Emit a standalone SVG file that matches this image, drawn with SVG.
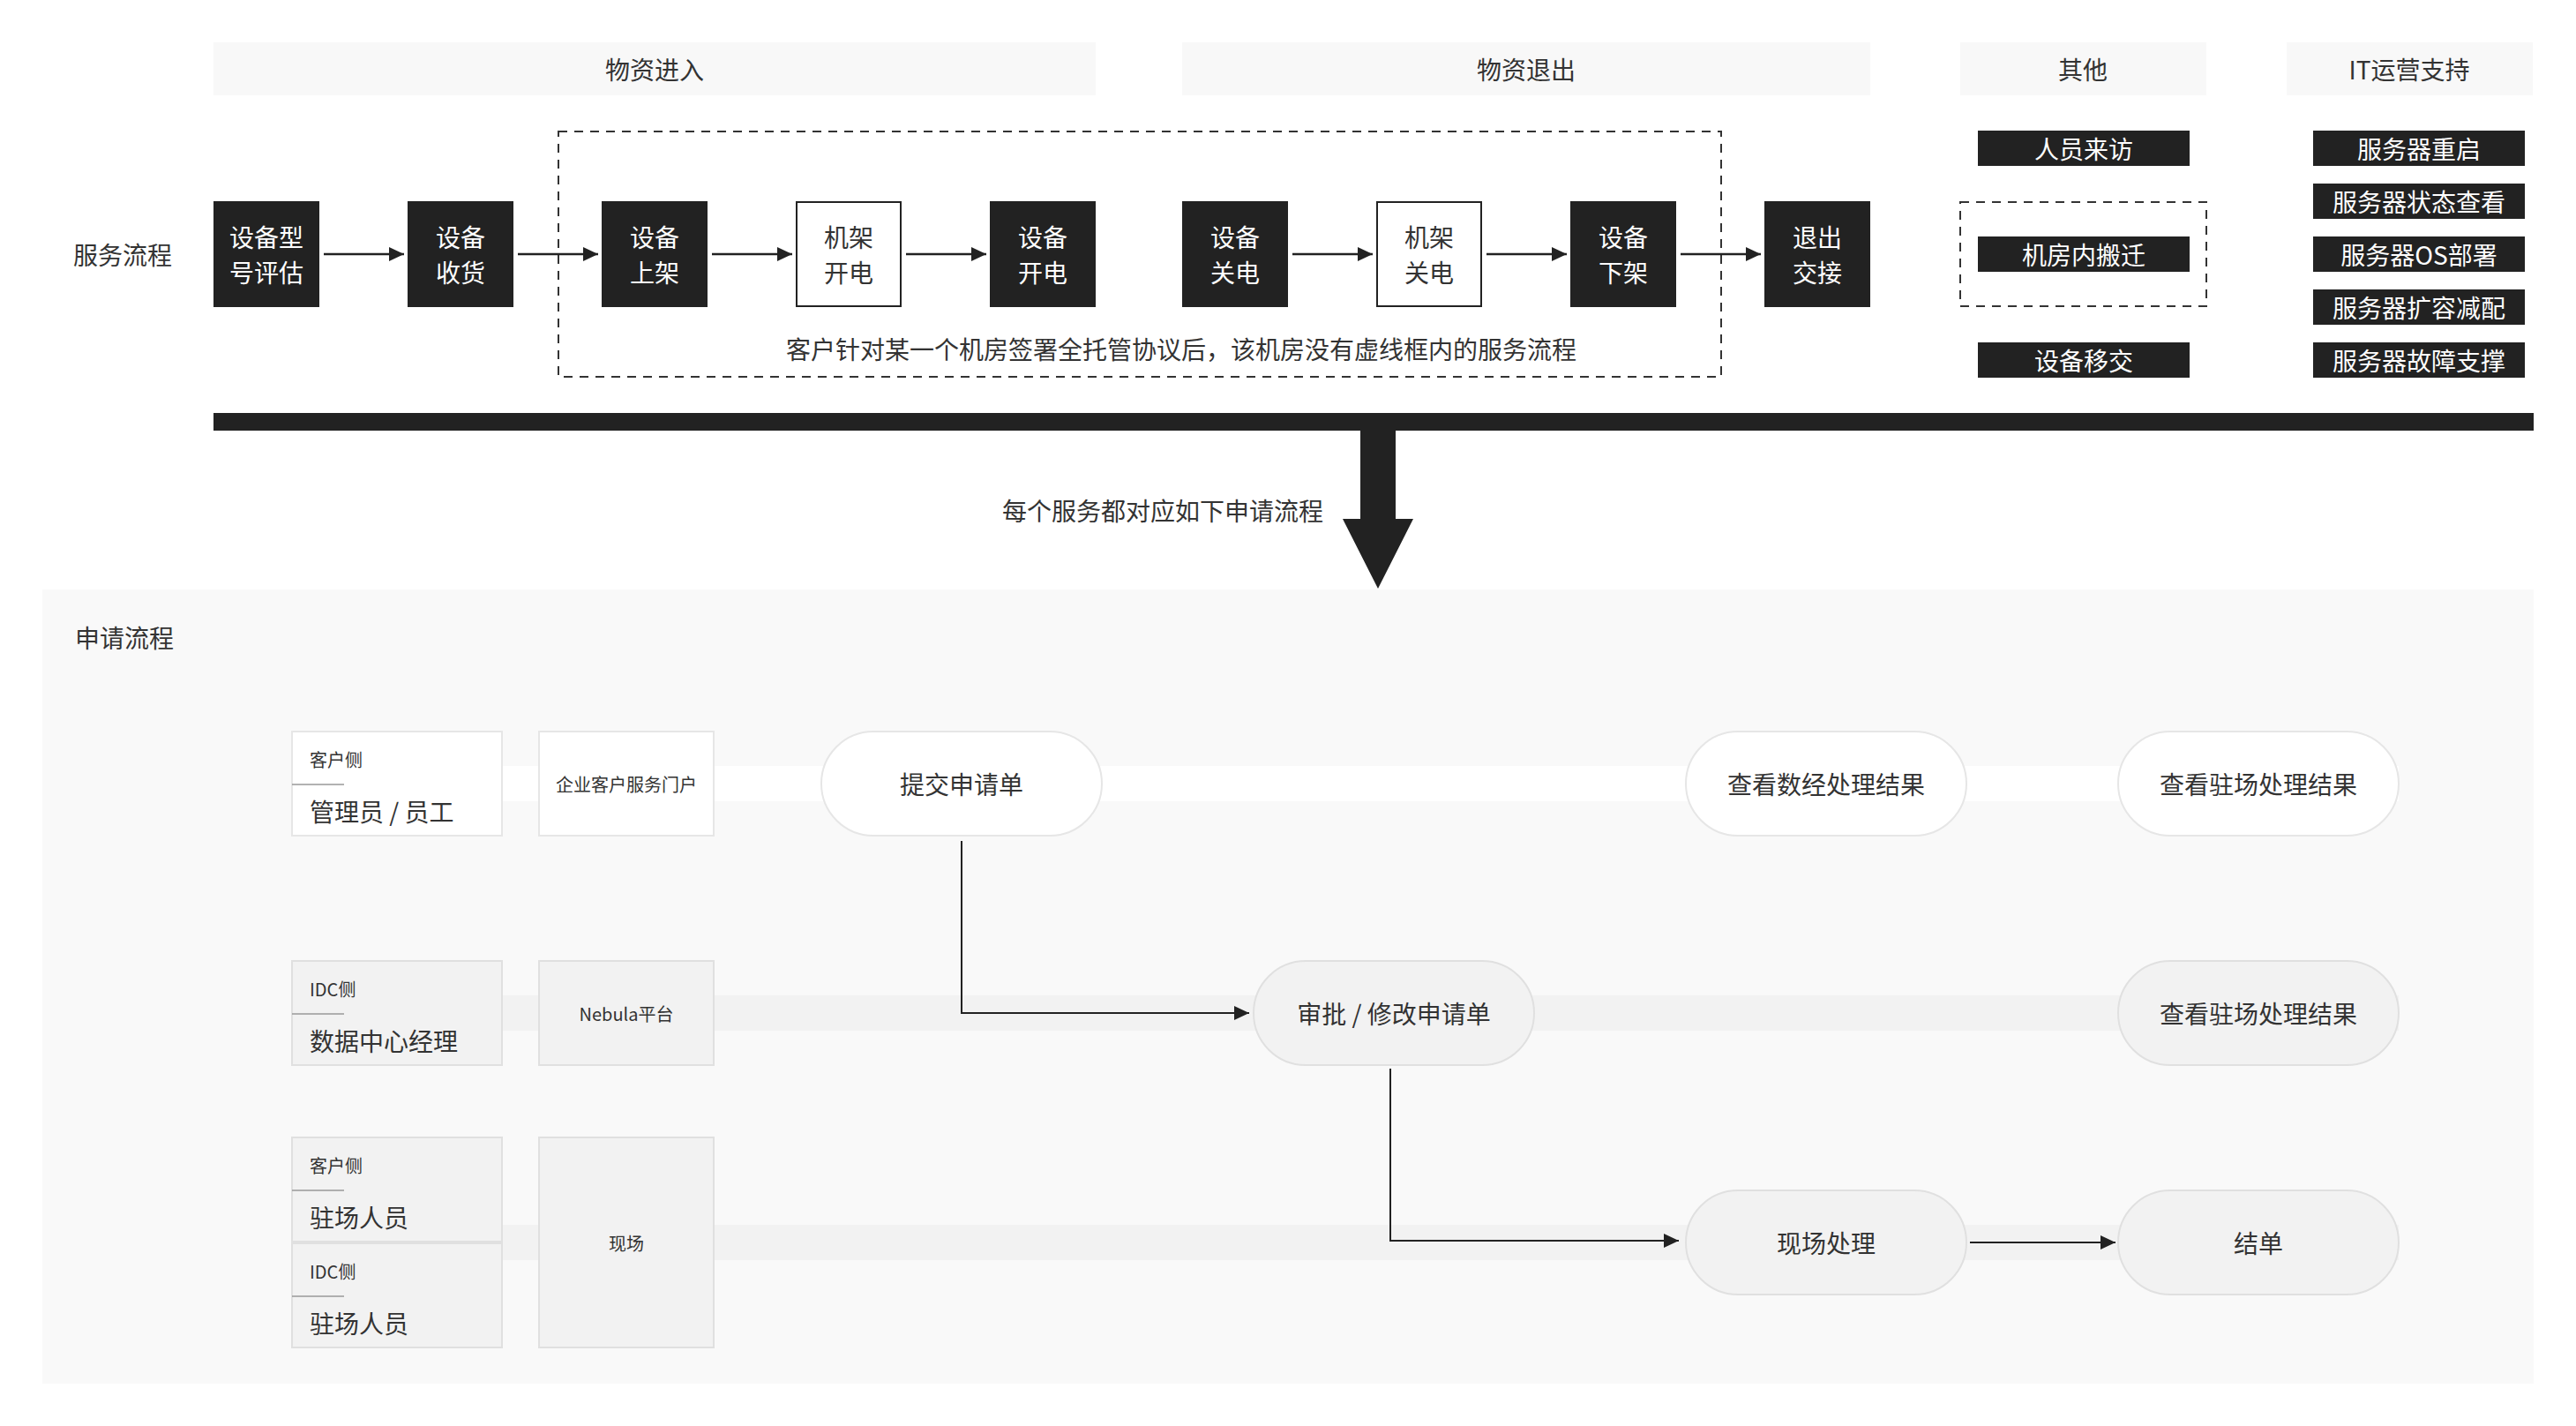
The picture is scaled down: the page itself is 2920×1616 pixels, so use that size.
<svg xmlns="http://www.w3.org/2000/svg" width="2920" height="1616" viewBox="0 0 2920 1616">
<defs>
<style>
text{font-family:"Noto Sans CJK SC","Noto Sans",sans-serif;fill:#333;dominant-baseline:central}
.t28{font-size:28px}
.t20{font-size:20px}
.c{text-anchor:middle}
.w{fill:#fff}
.hdr{fill:#f8f8f8}
.blk{fill:#222}
.wbox{fill:#fff;stroke:#222;stroke-width:2}
.dash{fill:none;stroke:#333;stroke-width:2;stroke-dasharray:10 8}
.arr{fill:none;stroke:#222;stroke-width:2.5}
.conn{fill:none;stroke:#222;stroke-width:2}
.rw{fill:#fff;stroke:#e6e6e6;stroke-width:2}
.rg{fill:#f2f2f2;stroke:#e0e0e0;stroke-width:2}
.sep{stroke:#999;stroke-width:1.5}
.base{dominant-baseline:alphabetic}
</style>
<marker id="ah" markerUnits="userSpaceOnUse" markerWidth="18" markerHeight="18" refX="17" refY="8" orient="auto">
<path d="M0,0 L17,8 L0,16 Z" fill="#222"/>
</marker>
</defs>
<rect width="2920" height="1616" fill="#fff"/>

<g id="headers">
<rect class="hdr" x="242" y="48" width="1000" height="60"/>
<text class="t28 c" x="742" y="78">物资进入</text>
<rect class="hdr" x="1340" y="48" width="780" height="60"/>
<text class="t28 c" x="1730" y="78">物资退出</text>
<rect class="hdr" x="2222" y="48" width="279" height="60"/>
<text class="t28 c" x="2361" y="78">其他</text>
<rect class="hdr" x="2592" y="48" width="279" height="60"/>
<text class="t28 c" x="2731" y="78">IT运营支持</text>
</g>

<text class="t28" x="83" y="288">服务流程</text>

<rect class="dash" x="633" y="149" width="1318" height="278"/>
<text class="t28 c" x="1339" y="395">客户针对某一个机房签署全托管协议后，该机房没有虚线框内的服务流程</text>

<g id="n1"><rect class="blk" x="242" y="228" width="120" height="120"/><text class="t28 c w" x="302" y="268">设备型</text><text class="t28 c w" x="302" y="308">号评估</text></g>
<g id="n2"><rect class="blk" x="462" y="228" width="120" height="120"/><text class="t28 c w" x="522" y="268">设备</text><text class="t28 c w" x="522" y="308">收货</text></g>
<g id="n3"><rect class="blk" x="682" y="228" width="120" height="120"/><text class="t28 c w" x="742" y="268">设备</text><text class="t28 c w" x="742" y="308">上架</text></g>
<g id="n4"><rect class="wbox" x="903" y="229" width="118" height="118"/><text class="t28 c" x="962" y="268">机架</text><text class="t28 c" x="962" y="308">开电</text></g>
<g id="n5"><rect class="blk" x="1122" y="228" width="120" height="120"/><text class="t28 c w" x="1182" y="268">设备</text><text class="t28 c w" x="1182" y="308">开电</text></g>
<g id="n6"><rect class="blk" x="1340" y="228" width="120" height="120"/><text class="t28 c w" x="1400" y="268">设备</text><text class="t28 c w" x="1400" y="308">关电</text></g>
<g id="n7"><rect class="wbox" x="1561" y="229" width="118" height="118"/><text class="t28 c" x="1620" y="268">机架</text><text class="t28 c" x="1620" y="308">关电</text></g>
<g id="n8"><rect class="blk" x="1780" y="228" width="120" height="120"/><text class="t28 c w" x="1840" y="268">设备</text><text class="t28 c w" x="1840" y="308">下架</text></g>
<g id="n9"><rect class="blk" x="2000" y="228" width="120" height="120"/><text class="t28 c w" x="2060" y="268">退出</text><text class="t28 c w" x="2060" y="308">交接</text></g>

<g id="other">
<rect class="blk" x="2242" y="148" width="240" height="40"/><text class="t28 c w" x="2362" y="168">人员来访</text>
<rect class="dash" x="2222" y="229" width="279" height="118"/>
<rect class="blk" x="2242" y="268" width="240" height="40"/><text class="t28 c w" x="2362" y="288">机房内搬迁</text>
<rect class="blk" x="2242" y="388" width="240" height="40"/><text class="t28 c w" x="2362" y="408">设备移交</text>
</g>
<g id="it">
<rect class="blk" x="2622" y="148" width="240" height="40"/><text class="t28 c w" x="2742" y="168">服务器重启</text>
<rect class="blk" x="2622" y="208" width="240" height="40"/><text class="t28 c w" x="2742" y="228">服务器状态查看</text>
<rect class="blk" x="2622" y="268" width="240" height="40"/><text class="t28 c w" x="2742" y="288">服务器OS部署</text>
<rect class="blk" x="2622" y="328" width="240" height="40"/><text class="t28 c w" x="2742" y="348">服务器扩容减配</text>
<rect class="blk" x="2622" y="388" width="240" height="40"/><text class="t28 c w" x="2742" y="408">服务器故障支撑</text>
</g>

<g id="bigarrow">
<rect class="blk" x="242" y="468" width="2630" height="20"/>
<path class="blk" d="M1542,487 H1582 V588 H1602 L1562,667 L1522,588 H1542 Z"/>
<text class="t28" x="1500" y="578" text-anchor="end">每个服务都对应如下申请流程</text>
</g>

<rect x="48" y="668" width="2824" height="900" fill="#f9f9f9"/>
<text class="t28" x="85" y="722">申请流程</text>

<g id="bands">
<rect x="331" y="868" width="2388" height="40" fill="#fff"/>
<rect x="331" y="1128" width="2388" height="40" fill="#f2f2f2"/>
<rect x="331" y="1388" width="2388" height="40" fill="#f2f2f2"/>
</g>

<g id="role1"><rect class="rw" x="331" y="829" width="238" height="118"/><text class="t20 base" x="351" y="869">客户侧</text><line class="sep" x1="331" y1="889" x2="390" y2="889"/><text class="t28 base" x="351" y="931">管理员 / 员工</text></g>
<g id="sys1"><rect class="rw" x="611" y="829" width="198" height="118"/><text class="t20 c" x="710" y="888">企业客户服务门户</text></g>
<g id="role2"><rect class="rg" x="331" y="1089" width="238" height="118"/><text class="t20 base" x="351" y="1129">IDC侧</text><line class="sep" x1="331" y1="1149" x2="390" y2="1149"/><text class="t28 base" x="351" y="1191">数据中心经理</text></g>
<g id="sys2"><rect class="rg" x="611" y="1089" width="198" height="118"/><text class="t20 c" x="710" y="1148">Nebula平台</text></g>
<g id="role3a"><rect class="rg" x="331" y="1289" width="238" height="118"/><text class="t20 base" x="351" y="1329">客户侧</text><line class="sep" x1="331" y1="1349" x2="390" y2="1349"/><text class="t28 base" x="351" y="1391">驻场人员</text></g>
<g id="role3b"><rect class="rg" x="331" y="1409" width="238" height="118"/><text class="t20 base" x="351" y="1449">IDC侧</text><line class="sep" x1="331" y1="1469" x2="390" y2="1469"/><text class="t28 base" x="351" y="1511">驻场人员</text></g>
<g id="sys3"><rect class="rg" x="611" y="1289" width="198" height="238"/><text class="t20 c" x="710" y="1408">现场</text></g>

<g id="p1"><rect class="rw" x="931" y="829" width="318" height="118" rx="59"/><text class="t28 c" x="1090" y="888">提交申请单</text></g>
<g id="p2"><rect class="rw" x="1911" y="829" width="318" height="118" rx="59"/><text class="t28 c" x="2070" y="888">查看数经处理结果</text></g>
<g id="p3"><rect class="rw" x="2401" y="829" width="318" height="118" rx="59"/><text class="t28 c" x="2560" y="888">查看驻场处理结果</text></g>
<g id="p4"><rect class="rg" x="1421" y="1089" width="318" height="118" rx="59"/><text class="t28 c" x="1580" y="1148">审批 / 修改申请单</text></g>
<g id="p5"><rect class="rg" x="2401" y="1089" width="318" height="118" rx="59"/><text class="t28 c" x="2560" y="1148">查看驻场处理结果</text></g>
<g id="p6"><rect class="rg" x="1911" y="1349" width="318" height="118" rx="59"/><text class="t28 c" x="2070" y="1408">现场处理</text></g>
<g id="p7"><rect class="rg" x="2401" y="1349" width="318" height="118" rx="59"/><text class="t28 c" x="2560" y="1408">结单</text></g>

<g id="connectors">
<line class="arr" x1="367" y1="288" x2="458" y2="288" marker-end="url(#ah)"/>
<line class="arr" x1="587" y1="288" x2="678" y2="288" marker-end="url(#ah)"/>
<line class="arr" x1="807" y1="288" x2="898" y2="288" marker-end="url(#ah)"/>
<line class="arr" x1="1027" y1="288" x2="1118" y2="288" marker-end="url(#ah)"/>
<line class="arr" x1="1465" y1="288" x2="1556" y2="288" marker-end="url(#ah)"/>
<line class="arr" x1="1685" y1="288" x2="1776" y2="288" marker-end="url(#ah)"/>
<line class="arr" x1="1905" y1="288" x2="1996" y2="288" marker-end="url(#ah)"/>
<path class="conn" d="M1090,953 V1148 H1416" marker-end="url(#ah)"/>
<path class="conn" d="M1576,1211 V1406 H1903" marker-end="url(#ah)"/>
<line class="conn" x1="2233" y1="1408" x2="2398" y2="1408" marker-end="url(#ah)"/>
</g>
</svg>
